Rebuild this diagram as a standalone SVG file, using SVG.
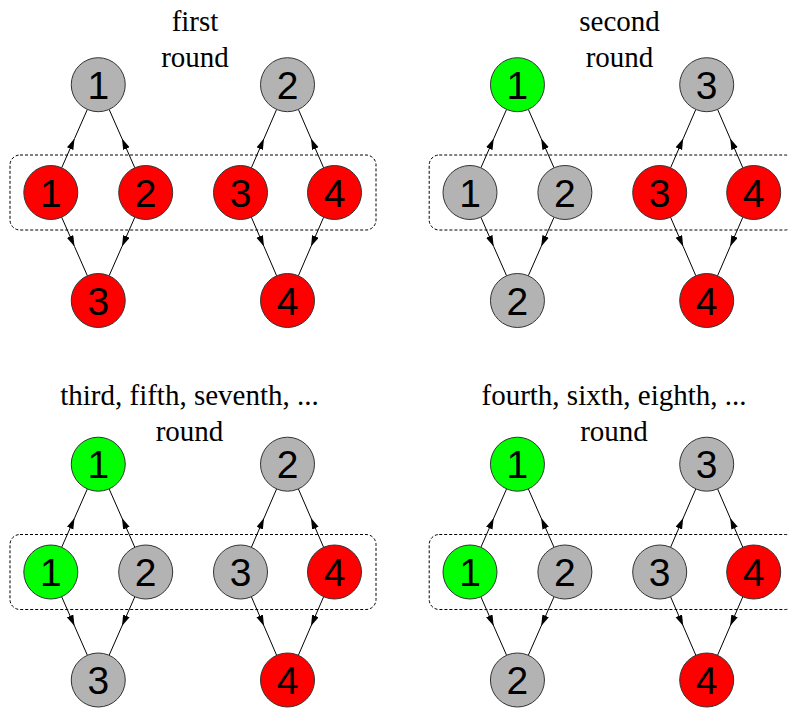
<svg xmlns="http://www.w3.org/2000/svg" xmlns:xlink="http://www.w3.org/1999/xlink" width="788" height="711" viewBox="0 0 788 711">
<defs>
<style>
.title{font-family:"Liberation Serif","Times New Roman",serif;font-size:29px;fill:#000;text-anchor:middle}
.num{font-family:"Liberation Sans",Arial,sans-serif;font-size:39px;fill:#000;text-anchor:middle}
.n circle{stroke:#333;stroke-width:1}
.gray circle{fill:#b3b3b3}
.red circle{fill:#ff0000}
.green circle{fill:#00ff00}
.box{fill:none;stroke:#000;stroke-width:1;stroke-dasharray:3 2}
.edge{fill:none;stroke:#000;stroke-width:1;marker-mid:url(#arr)}
</style>
<marker id="arr" markerUnits="userSpaceOnUse" markerWidth="12" markerHeight="8" refX="11" refY="3.5" orient="auto" viewBox="0 0 12 8">
<path d="M0,0 L11,3.5 L0,7 z" fill="#000"/>
</marker>
<g id="edges">
<path class="edge" d="M61.68,167.79 L74.53,138.6 L87.37,109.41"/>
<path class="edge" d="M134.82,167.79 L121.98,138.6 L109.13,109.41"/>
<path class="edge" d="M251.38,167.79 L264,138.6 L276.62,109.41"/>
<path class="edge" d="M323.62,167.79 L311,138.6 L298.38,109.41"/>
<path class="edge" d="M61.66,217.22 L74.5,246.5 L87.39,275.78"/>
<path class="edge" d="M134.84,217.22 L121.98,246.5 L109.11,275.78"/>
<path class="edge" d="M251.36,217.22 L264,246.5 L276.64,275.78"/>
<path class="edge" d="M323.64,217.22 L311,246.5 L298.36,275.78"/>
</g>
</defs>

<g id="titles">
<text class="title" x="195" y="31">first</text>
<text class="title" x="195" y="66.7">round</text>
<text class="title" x="619.5" y="31">second</text>
<text class="title" x="619.5" y="66.7">round</text>
<text class="title" x="189.5" y="405">third, fifth, seventh, ...</text>
<text class="title" x="189.5" y="440.7">round</text>
<text class="title" x="614" y="405">fourth, sixth, eighth, ...</text>
<text class="title" x="614" y="440.7">round</text>
</g>

<g id="groups">
<rect class="box" x="10" y="155" width="366" height="75" rx="10"/>
<rect class="box" x="429.2" y="155" width="366" height="75" rx="10"/>
<rect class="box" x="10" y="534.5" width="366" height="75" rx="10"/>
<rect class="box" x="429.2" y="534.5" width="366" height="75" rx="10"/>
</g>

<g id="connectors">
<use xlink:href="#edges" href="#edges"/>
<use xlink:href="#edges" href="#edges" transform="translate(419.2,0)"/>
<use xlink:href="#edges" href="#edges" transform="translate(0,379.5)"/>
<use xlink:href="#edges" href="#edges" transform="translate(419.2,379.5)"/>
</g>

<g id="panel-first">
<g id="p1-top1" class="n gray"><circle cx="98.25" cy="84.7" r="27"/><text class="num" x="98.25" y="98.7">1</text></g>
<g id="p1-top2" class="n gray"><circle cx="287.5" cy="84.7" r="27"/><text class="num" x="287.5" y="98.7">2</text></g>
<g id="p1-mid1" class="n red"><circle cx="50.8" cy="192.5" r="27"/><text class="num" x="50.8" y="206.5">1</text></g>
<g id="p1-mid2" class="n red"><circle cx="145.7" cy="192.5" r="27"/><text class="num" x="145.7" y="206.5">2</text></g>
<g id="p1-mid3" class="n red"><circle cx="240.5" cy="192.5" r="27"/><text class="num" x="240.5" y="206.5">3</text></g>
<g id="p1-mid4" class="n red"><circle cx="334.5" cy="192.5" r="27"/><text class="num" x="334.5" y="206.5">4</text></g>
<g id="p1-bot3" class="n red"><circle cx="98.25" cy="300.5" r="27"/><text class="num" x="98.25" y="314.5">3</text></g>
<g id="p1-bot4" class="n red"><circle cx="287.5" cy="300.5" r="27"/><text class="num" x="287.5" y="314.5">4</text></g>
</g>

<g id="panel-second" transform="translate(419.2,0)">
<g id="p2-top1" class="n green"><circle cx="98.25" cy="84.7" r="27"/><text class="num" x="98.25" y="98.7">1</text></g>
<g id="p2-top3" class="n gray"><circle cx="287.5" cy="84.7" r="27"/><text class="num" x="287.5" y="98.7">3</text></g>
<g id="p2-mid1" class="n gray"><circle cx="50.8" cy="192.5" r="27"/><text class="num" x="50.8" y="206.5">1</text></g>
<g id="p2-mid2" class="n gray"><circle cx="145.7" cy="192.5" r="27"/><text class="num" x="145.7" y="206.5">2</text></g>
<g id="p2-mid3" class="n red"><circle cx="240.5" cy="192.5" r="27"/><text class="num" x="240.5" y="206.5">3</text></g>
<g id="p2-mid4" class="n red"><circle cx="334.5" cy="192.5" r="27"/><text class="num" x="334.5" y="206.5">4</text></g>
<g id="p2-bot2" class="n gray"><circle cx="98.25" cy="300.5" r="27"/><text class="num" x="98.25" y="314.5">2</text></g>
<g id="p2-bot4" class="n red"><circle cx="287.5" cy="300.5" r="27"/><text class="num" x="287.5" y="314.5">4</text></g>
</g>

<g id="panel-third" transform="translate(0,379.5)">
<g id="p3-top1" class="n green"><circle cx="98.25" cy="84.7" r="27"/><text class="num" x="98.25" y="98.7">1</text></g>
<g id="p3-top2" class="n gray"><circle cx="287.5" cy="84.7" r="27"/><text class="num" x="287.5" y="98.7">2</text></g>
<g id="p3-mid1" class="n green"><circle cx="50.8" cy="192.5" r="27"/><text class="num" x="50.8" y="206.5">1</text></g>
<g id="p3-mid2" class="n gray"><circle cx="145.7" cy="192.5" r="27"/><text class="num" x="145.7" y="206.5">2</text></g>
<g id="p3-mid3" class="n gray"><circle cx="240.5" cy="192.5" r="27"/><text class="num" x="240.5" y="206.5">3</text></g>
<g id="p3-mid4" class="n red"><circle cx="334.5" cy="192.5" r="27"/><text class="num" x="334.5" y="206.5">4</text></g>
<g id="p3-bot3" class="n gray"><circle cx="98.25" cy="300.5" r="27"/><text class="num" x="98.25" y="314.5">3</text></g>
<g id="p3-bot4" class="n red"><circle cx="287.5" cy="300.5" r="27"/><text class="num" x="287.5" y="314.5">4</text></g>
</g>

<g id="panel-fourth" transform="translate(419.2,379.5)">
<g id="p4-top1" class="n green"><circle cx="98.25" cy="84.7" r="27"/><text class="num" x="98.25" y="98.7">1</text></g>
<g id="p4-top3" class="n gray"><circle cx="287.5" cy="84.7" r="27"/><text class="num" x="287.5" y="98.7">3</text></g>
<g id="p4-mid1" class="n green"><circle cx="50.8" cy="192.5" r="27"/><text class="num" x="50.8" y="206.5">1</text></g>
<g id="p4-mid2" class="n gray"><circle cx="145.7" cy="192.5" r="27"/><text class="num" x="145.7" y="206.5">2</text></g>
<g id="p4-mid3" class="n gray"><circle cx="240.5" cy="192.5" r="27"/><text class="num" x="240.5" y="206.5">3</text></g>
<g id="p4-mid4" class="n red"><circle cx="334.5" cy="192.5" r="27"/><text class="num" x="334.5" y="206.5">4</text></g>
<g id="p4-bot2" class="n gray"><circle cx="98.25" cy="300.5" r="27"/><text class="num" x="98.25" y="314.5">2</text></g>
<g id="p4-bot4" class="n red"><circle cx="287.5" cy="300.5" r="27"/><text class="num" x="287.5" y="314.5">4</text></g>
</g>
</svg>
